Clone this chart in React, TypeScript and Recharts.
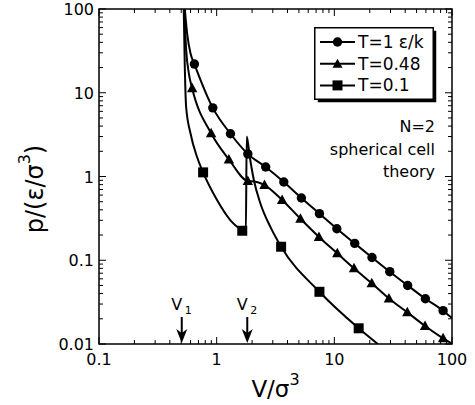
import React from 'react';
import { ComposedChart, Line, Scatter, XAxis, YAxis, ReferenceArea, Legend } from 'recharts';

// ---------- data ----------
const seriesNames = ['T=1 ε/k', 'T=0.48', 'T=0.1'];

// T = 1 : continuous curve and circle markers
const t1LineV = [0.536, 0.561, 0.599, 0.647, 0.927, 1.31, 1.84, 2.61, 3.72, 5.25, 7.47, 10.5, 14.9, 20.9, 29.6, 42, 59.4, 84, 100];
const t1LineP = [100, 51, 29.6, 22, 6.6, 3.24, 1.86, 1.3, 0.86, 0.553, 0.36, 0.238, 0.159, 0.108, 0.073, 0.05, 0.0347, 0.025, 0.0204];
const t1MarkV = [0.647, 0.927, 1.31, 1.84, 2.61, 3.72, 5.25, 7.47, 10.5, 14.9, 20.9, 29.6, 42, 59.4, 84];
const t1MarkP = [22, 6.6, 3.24, 1.86, 1.3, 0.86, 0.553, 0.36, 0.238, 0.159, 0.108, 0.073, 0.05, 0.0347, 0.025];

// T = 0.48 : curve and triangle markers
const t2LineV = [0.53, 0.551, 0.58, 0.619, 0.897, 1.27, 1.84, 2.1, 2.55, 3.6, 5.15, 7.4, 10.6, 14.7, 20.8, 29.1, 41.7, 59, 84, 100];
const t2LineP = [100, 32, 17, 11.3, 3.28, 1.6, 0.883, 0.87, 0.79, 0.524, 0.313, 0.19, 0.121, 0.08, 0.053, 0.035, 0.0239, 0.0164, 0.0117, 0.0101];
const t2MarkV = [0.619, 0.897, 1.27, 1.84, 2.55, 3.6, 5.15, 7.4, 10.6, 14.7, 20.8, 29.1, 41.7, 59, 84];
const t2MarkP = [11.3, 3.28, 1.6, 0.883, 0.79, 0.524, 0.313, 0.19, 0.121, 0.08, 0.053, 0.035, 0.0239, 0.0164, 0.0117];

// T = 0.1 : curve (with jump at V2) and square markers
const t3LineV = [0.525, 0.536, 0.55, 0.599, 0.68, 0.767, 1.01, 1.31, 1.65, 1.77, 1.8, 1.91, 2.07, 2.35, 2.86, 3.53, 7.47, 16.1, 23.4];
const t3LineP = [100, 20.5, 6.8, 3.28, 1.72, 1.12, 0.52, 0.3, 0.225, 0.21, 3.0, 1.72, 0.91, 0.48, 0.25, 0.145, 0.042, 0.0154, 0.01];
const t3MarkV = [0.767, 1.65, 3.53, 7.47, 16.1];
const t3MarkP = [1.12, 0.225, 0.145, 0.042, 0.0154];

// volume markers V1, V2
const arrowV = [0.505, 1.82];
const arrowP = [0.01, 0.01];
const arrowSub = ['1', '2'];

// axes
const xDecades = [0.1, 1, 10];
const yDecades = [0.01, 0.1, 1, 10];
const minorMult = [1, 2, 3, 4, 5, 6, 7, 8, 9];
const xTickLabels = ['0.1', '1', '10', '100'];
const yTickLabels = ['0.01', '0.1', '1', '10', '100'];
const noteLines = ['N=2', 'spherical cell', 'theory'];

// ---------- helpers ----------
const zip = (v: number[], p: number[]) => v.map((x, i) => ({ v: x, p: p[i] }));
const t1Line = zip(t1LineV, t1LineP);
const t1Mark = zip(t1MarkV, t1MarkP);
const t2Line = zip(t2LineV, t2LineP);
const t2Mark = zip(t2MarkV, t2MarkP);
const t3Line = zip(t3LineV, t3LineP);
const t3Mark = zip(t3MarkV, t3MarkP);
const arrows = arrowV.map((v, i) => ({ v, p: arrowP[i], sub: arrowSub[i] }));

const buildTicks = (decs: number[], last: number) =>
  decs.flatMap((d) => minorMult.map((m) => +(d * m).toPrecision(6))).concat([last]);
const xTicks = buildTicks(xDecades, 100);
const yTicks = buildTicks(yDecades, 100);

const W = 475;
const H = 405;
const M = { top: 9, right: 23, bottom: 0, left: 0 };
const Y_AXIS_W = 99;
const X_AXIS_H = 61;
const PLOT_LEFT = M.left + Y_AXIS_W;
const PLOT_RIGHT = W - M.right;
const PLOT_TOP = M.top;
const PLOT_BOTTOM = H - M.bottom - X_AXIS_H;
const FONT = '"DejaVu Sans", Verdana, sans-serif';

const isMajor = (v: number) => Math.abs(Math.log10(v) - Math.round(Math.log10(v))) < 1e-6;

const XTick = (props: any) => {
  const { x, y, payload } = props;
  const v = payload.value;
  const major = isMajor(v);
  const len = major ? 7 : 4;
  const label = major ? xTickLabels[Math.round(Math.log10(v)) + 1] : null;
  return (
    <g>
      <line x1={x} x2={x} y1={y} y2={y - len} stroke="#000" strokeWidth={1} />
      <line x1={x} x2={x} y1={PLOT_TOP} y2={PLOT_TOP + len} stroke="#000" strokeWidth={1} />
      {label && (
        <text x={x} y={y + 21} textAnchor="middle" fontSize={16} fontFamily={FONT} fill="#000">
          {label}
        </text>
      )}
    </g>
  );
};

const YTick = (props: any) => {
  const { x, y, payload } = props;
  const v = payload.value;
  const major = isMajor(v);
  const len = major ? 7 : 4;
  const label = major ? yTickLabels[Math.round(Math.log10(v)) + 2] : null;
  return (
    <g>
      <line x1={x} x2={x + len} y1={y} y2={y} stroke="#000" strokeWidth={1} />
      <line x1={PLOT_RIGHT} x2={PLOT_RIGHT - len} y1={y} y2={y} stroke="#000" strokeWidth={1} />
      {label && (
        <text x={x - 5} y={y + 6} textAnchor="end" fontSize={16} fontFamily={FONT} fill="#000">
          {label}
        </text>
      )}
    </g>
  );
};

const XTitle = () => (
  <text x={(PLOT_LEFT + PLOT_RIGHT) / 2} y={PLOT_BOTTOM + 53} textAnchor="middle" fontSize={23} fontFamily={FONT} fill="#000">
    V/σ<tspan dy={-12} fontSize={16}>3</tspan>
  </text>
);

const YTitle = () => {
  const cx = 43;
  const cy = 189;
  return (
    <text x={cx} y={cy} transform={`rotate(-90, ${cx}, ${cy})`} textAnchor="middle" fontSize={24} fontFamily={FONT} fill="#000">
      p/(ε/σ<tspan dy={-13} fontSize={16}>3</tspan>
      <tspan dy={13}>)</tspan>
    </text>
  );
};

const CircleMark = (p: any) => <circle cx={p.cx} cy={p.cy} r={4.7} fill="#000" />;
const TriMark = (p: any) => (
  <polygon points={`${p.cx},${p.cy - 5.5} ${p.cx + 5.2},${p.cy + 4} ${p.cx - 5.2},${p.cy + 4}`} fill="#000" />
);
const SqMark = (p: any) => <rect x={p.cx - 5} y={p.cy - 5} width={10} height={10} fill="#000" />;

const ArrowMark = (p: any) => {
  const { cx, cy, payload } = p;
  return (
    <g>
      <line x1={cx} x2={cx} y1={cy - 27} y2={cy - 8} stroke="#000" strokeWidth={2} />
      <polygon
        points={`${cx - 5.5},${cy - 15} ${cx},${cy - 1} ${cx + 5.5},${cy - 15} ${cx},${cy - 11}`}
        fill="#000"
      />
      <text x={cx - 5} y={cy - 34} textAnchor="middle" fontSize={16} fontFamily={FONT} fill="#000">
        V
      </text>
      <text x={cx + 3} y={cy - 30} fontSize={11} fontFamily={FONT} fill="#000">
        {payload.sub}
      </text>
    </g>
  );
};

const legendMarks = [
  (x: number, y: number) => <circle cx={x} cy={y} r={4.7} fill="#000" />,
  (x: number, y: number) => (
    <polygon points={`${x},${y - 5} ${x + 5},${y + 4} ${x - 5},${y + 4}`} fill="#000" />
  ),
  (x: number, y: number) => <rect x={x - 5} y={y - 5} width={10} height={10} fill="#000" />,
];

const LegendContent = () => (
  <svg width={130} height={160} style={{ display: 'block', overflow: 'visible' }}>
    <rect x={3.75} y={3.75} width={118.5} height={71.5} fill="#000" />
    <rect x={0.75} y={0.75} width={118.5} height={71.5} fill="#fff" stroke="#000" strokeWidth={1.5} />
    {seriesNames.map((n, i) => {
      const cy = 15 + i * 21.7;
      return (
        <g key={n}>
          <line x1={6} x2={41} y1={cy} y2={cy} stroke="#000" strokeWidth={2} />
          {legendMarks[i](23.5, cy)}
          <text x={44} y={cy + 6} fontSize={17} fontFamily={FONT} fill="#000">
            {n}
          </text>
        </g>
      );
    })}
    {noteLines.map((t, i) => (
      <text key={t} x={121} y={105 + i * 22.5} textAnchor="end" fontSize={16} fontFamily={FONT} fill="#000">
        {t}
      </text>
    ))}
  </svg>
);

export default function App() {
  return (
    <div style={{ position: 'absolute', left: 0, top: 0, background: '#fff' }}>
      <ComposedChart width={W} height={H} margin={M}>
        <XAxis
          dataKey="v"
          type="number"
          scale="log"
          domain={[0.1, 100]}
          allowDataOverflow
          ticks={xTicks}
          interval={0}
          tickSize={0}
          tickMargin={0}
          height={X_AXIS_H}
          axisLine={false}
          tick={<XTick />}
          label={<XTitle />}
        />
        <YAxis
          dataKey="p"
          type="number"
          scale="log"
          domain={[0.01, 100]}
          allowDataOverflow
          ticks={yTicks}
          interval={0}
          tickSize={0}
          tickMargin={0}
          width={Y_AXIS_W}
          axisLine={false}
          tick={<YTick />}
          label={<YTitle />}
        />
        <ReferenceArea x1={0.1} x2={100} y1={0.01} y2={100} fill="none" fillOpacity={0} stroke="#000" strokeWidth={1.5} ifOverflow="visible" />
        <Line data={t1Line} dataKey="p" type="monotone" stroke="#000" strokeWidth={2} dot={false} activeDot={false} isAnimationActive={false} legendType="none" />
        <Line data={t2Line} dataKey="p" type="monotone" stroke="#000" strokeWidth={2} dot={false} activeDot={false} isAnimationActive={false} legendType="none" />
        <Line data={t3Line} dataKey="p" type="monotone" stroke="#000" strokeWidth={2} dot={false} activeDot={false} isAnimationActive={false} legendType="none" />
        <Scatter data={t1Mark} dataKey="p" shape={CircleMark} isAnimationActive={false} legendType="none" />
        <Scatter data={t2Mark} dataKey="p" shape={TriMark} isAnimationActive={false} legendType="none" />
        <Scatter data={t3Mark} dataKey="p" shape={SqMark} isAnimationActive={false} legendType="none" />
        <Scatter data={arrows} dataKey="p" shape={ArrowMark} isAnimationActive={false} legendType="none" />
        <Legend
          layout="horizontal"
          verticalAlign="middle"
          align="center"
          content={<LegendContent />}
          wrapperStyle={{ position: 'absolute', left: 314, top: 27, width: 130, height: 160 }}
        />
      </ComposedChart>
    </div>
  );
}
